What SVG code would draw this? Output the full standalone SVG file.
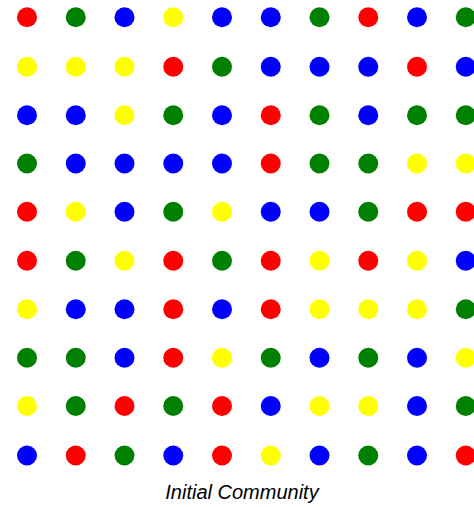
<svg xmlns="http://www.w3.org/2000/svg" width="474" height="507" viewBox="0 0 474 507">
<style>
.r{fill:#ff0000}.g{fill:#008000}.b{fill:#0000ff}.y{fill:#ffff00}
.cap{font-family:"Liberation Sans",Arial,sans-serif;font-style:italic;font-size:20px;fill:#000}
</style>
<defs><circle id="d" r="10"/></defs>
<rect width="474" height="507" fill="#fff"/>
<g id="grid">
<g transform="translate(27,17.3)">
<use href="#d" class="r" x="0"/><use href="#d" class="g" x="48.75"/><use href="#d" class="b" x="97.5"/><use href="#d" class="y" x="146.25"/><use href="#d" class="b" x="195"/><use href="#d" class="b" x="243.75"/><use href="#d" class="g" x="292.5"/><use href="#d" class="r" x="341.25"/><use href="#d" class="b" x="390"/><use href="#d" class="g" x="438.75"/>
</g>
<g transform="translate(27,66.7)">
<use href="#d" class="y" x="0"/><use href="#d" class="y" x="48.75"/><use href="#d" class="y" x="97.5"/><use href="#d" class="r" x="146.25"/><use href="#d" class="g" x="195"/><use href="#d" class="b" x="243.75"/><use href="#d" class="b" x="292.5"/><use href="#d" class="b" x="341.25"/><use href="#d" class="r" x="390"/><use href="#d" class="b" x="438.75"/>
</g>
<g transform="translate(27,115.3)">
<use href="#d" class="b" x="0"/><use href="#d" class="b" x="48.75"/><use href="#d" class="y" x="97.5"/><use href="#d" class="g" x="146.25"/><use href="#d" class="b" x="195"/><use href="#d" class="r" x="243.75"/><use href="#d" class="g" x="292.5"/><use href="#d" class="b" x="341.25"/><use href="#d" class="g" x="390"/><use href="#d" class="g" x="438.75"/>
</g>
<g transform="translate(27,163.5)">
<use href="#d" class="g" x="0"/><use href="#d" class="b" x="48.75"/><use href="#d" class="b" x="97.5"/><use href="#d" class="b" x="146.25"/><use href="#d" class="b" x="195"/><use href="#d" class="r" x="243.75"/><use href="#d" class="g" x="292.5"/><use href="#d" class="g" x="341.25"/><use href="#d" class="y" x="390"/><use href="#d" class="y" x="438.75"/>
</g>
<g transform="translate(27,211.8)">
<use href="#d" class="r" x="0"/><use href="#d" class="y" x="48.75"/><use href="#d" class="b" x="97.5"/><use href="#d" class="g" x="146.25"/><use href="#d" class="y" x="195"/><use href="#d" class="b" x="243.75"/><use href="#d" class="b" x="292.5"/><use href="#d" class="g" x="341.25"/><use href="#d" class="r" x="390"/><use href="#d" class="r" x="438.75"/>
</g>
<g transform="translate(27,260.7)">
<use href="#d" class="r" x="0"/><use href="#d" class="g" x="48.75"/><use href="#d" class="y" x="97.5"/><use href="#d" class="r" x="146.25"/><use href="#d" class="g" x="195"/><use href="#d" class="r" x="243.75"/><use href="#d" class="y" x="292.5"/><use href="#d" class="r" x="341.25"/><use href="#d" class="y" x="390"/><use href="#d" class="b" x="438.75"/>
</g>
<g transform="translate(27,309.3)">
<use href="#d" class="y" x="0"/><use href="#d" class="b" x="48.75"/><use href="#d" class="b" x="97.5"/><use href="#d" class="r" x="146.25"/><use href="#d" class="b" x="195"/><use href="#d" class="r" x="243.75"/><use href="#d" class="y" x="292.5"/><use href="#d" class="y" x="341.25"/><use href="#d" class="y" x="390"/><use href="#d" class="g" x="438.75"/>
</g>
<g transform="translate(27,357.7)">
<use href="#d" class="g" x="0"/><use href="#d" class="g" x="48.75"/><use href="#d" class="b" x="97.5"/><use href="#d" class="r" x="146.25"/><use href="#d" class="y" x="195"/><use href="#d" class="g" x="243.75"/><use href="#d" class="b" x="292.5"/><use href="#d" class="g" x="341.25"/><use href="#d" class="b" x="390"/><use href="#d" class="y" x="438.75"/>
</g>
<g transform="translate(27,406)">
<use href="#d" class="y" x="0"/><use href="#d" class="g" x="48.75"/><use href="#d" class="r" x="97.5"/><use href="#d" class="g" x="146.25"/><use href="#d" class="r" x="195"/><use href="#d" class="b" x="243.75"/><use href="#d" class="y" x="292.5"/><use href="#d" class="y" x="341.25"/><use href="#d" class="b" x="390"/><use href="#d" class="g" x="438.75"/>
</g>
<g transform="translate(27,455.5)">
<use href="#d" class="b" x="0"/><use href="#d" class="r" x="48.75"/><use href="#d" class="g" x="97.5"/><use href="#d" class="b" x="146.25"/><use href="#d" class="r" x="195"/><use href="#d" class="y" x="243.75"/><use href="#d" class="b" x="292.5"/><use href="#d" class="g" x="341.25"/><use href="#d" class="b" x="390"/><use href="#d" class="r" x="438.75"/>
</g>
</g>
<text class="cap" x="242" y="499" text-anchor="middle">Initial Community</text>
</svg>
